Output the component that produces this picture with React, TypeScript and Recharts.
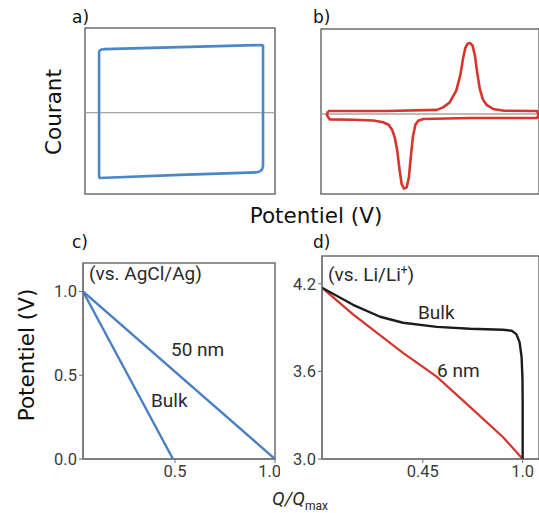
import React from "react";
import { LineChart, Line, XAxis, YAxis, ReferenceArea, ReferenceLine } from "recharts";

// Panel a: capacitive CV (rectangle)
const cvRectX = [0.1, 0.5, 0.93, 0.937, 0.937, 0.932, 0.92, 0.9, 0.5, 0.078, 0.074, 0.074, 0.078, 0.088, 0.1];
const cvRectY = [0.745, 0.77, 0.795, 0.785, -0.663, -0.705, -0.728, -0.74, -0.77, -0.807, -0.79, 0.711, 0.73, 0.742, 0.745];

// Panel b: faradaic CV with peaks
const cvPeakX = [0.032, 0.3, 0.532, 0.56, 0.59, 0.62, 0.64, 0.652, 0.662, 0.672, 0.683, 0.695, 0.706, 0.716, 0.728, 0.742, 0.76, 0.79, 0.84, 0.991, 0.998, 0.991, 0.683, 0.47, 0.447, 0.433, 0.422, 0.412, 0.403, 0.393, 0.381, 0.37, 0.36, 0.35, 0.339, 0.326, 0.31, 0.285, 0.24, 0.15, 0.04, 0.027, 0.032];
const cvPeakY = [0.006, 0.006, 0.02, 0.05, 0.11, 0.25, 0.45, 0.65, 0.77, 0.82, 0.83, 0.8, 0.68, 0.48, 0.28, 0.15, 0.08, 0.03, 0.01, 0.006, -0.04, -0.079, -0.079, -0.09, -0.11, -0.16, -0.3, -0.55, -0.8, -0.92, -0.935, -0.88, -0.7, -0.48, -0.32, -0.22, -0.16, -0.13, -0.11, -0.1, -0.095, -0.045, 0.006];

// Panel c
const cBulkX = [0.04, 0.49];
const cBulkY = [1.0, 0.0];
const c50X = [0.04, 1.0];
const c50Y = [1.0, 0.0];
const cTicksX = [0.5, 1.0];
const cTicksY = [0.0, 0.5, 1.0];

// Panel d
const dBulkX = [-0.105, 0.066, 0.215, 0.341, 0.528, 0.71, 0.891, 0.94, 0.965, 0.983, 0.994, 0.999, 1.0, 1.0];
const dBulkY = [4.173, 4.056, 3.974, 3.933, 3.905, 3.892, 3.885, 3.878, 3.855, 3.8, 3.7, 3.55, 3.4, 3.0];
const d6X = [-0.105, 0.066, 0.341, 0.396, 0.528, 0.71, 0.891, 1.0];
const d6Y = [4.173, 3.99, 3.727, 3.679, 3.562, 3.357, 3.151, 3.0];
const dTicksX = [0.45, 1.0];
const dTicksY = [3.0, 3.6, 4.2];

const zip = (xs: number[], ys: number[]) => xs.map((x, i) => ({ x, y: ys[i] }));

const BOX = "#6e6e6e";
const TICKFONT = "Roboto, 'DejaVu Sans', sans-serif";
const tickStyle = { fontSize: 16.5, fill: "#3a3a3a", fontFamily: TICKFONT };

export default function App() {
  return (
    <div style={{ position: "fixed", left: 0, top: 0, width: 539, height: 513, background: "#fff", overflow: "hidden" }}>
      {/* Panel a */}
      <div style={{ position: "absolute", left: 0, top: 0 }}>
        <LineChart width={280} height={200} margin={{ top: 28, right: 5, bottom: 6, left: 85 }}>
          <XAxis type="number" dataKey="x" domain={[0, 1]} hide />
          <YAxis type="number" domain={[-1, 1]} hide />
          <ReferenceLine y={-0.02} stroke="#aaa59c" strokeWidth={1.3} />
          <ReferenceArea x1={0} x2={1} y1={-1} y2={1} fill="none" stroke={BOX} strokeWidth={1.5} />
          <Line data={zip(cvRectX, cvRectY)} dataKey="y" type="linear" stroke="#4a87c7" strokeWidth={2.6} dot={false} isAnimationActive={false} />
        </LineChart>
      </div>
      {/* Panel b */}
      <div style={{ position: "absolute", left: 270, top: 0 }}>
        <LineChart width={269} height={200} margin={{ top: 29, right: 0, bottom: 6, left: 51 }}>
          <XAxis type="number" dataKey="x" domain={[0, 1]} hide />
          <YAxis type="number" domain={[-1, 1]} hide />
          <ReferenceLine y={-0.03} stroke="#aaa59c" strokeWidth={1.3} />
          <ReferenceArea x1={0} x2={1} y1={-1} y2={1} fill="none" stroke={BOX} strokeWidth={1.5} />
          <Line data={zip(cvPeakX, cvPeakY)} dataKey="y" type="linear" stroke="#d8352c" strokeWidth={2.6} strokeLinejoin="round" dot={false} isAnimationActive={false} />
        </LineChart>
      </div>
      {/* Panel c */}
      <div style={{ position: "absolute", left: 0, top: 220 }}>
        <LineChart width={280} height={293} margin={{ top: 43, right: 5, bottom: 24, left: 43 }}>
          <XAxis type="number" dataKey="x" domain={[0.04, 1]} ticks={cTicksX} tickFormatter={(v: number) => v.toFixed(1)} height={30} stroke={BOX} tickSize={4} tick={tickStyle} allowDataOverflow />
          <YAxis type="number" domain={[0, 1.17]} ticks={cTicksY} tickFormatter={(v: number) => v.toFixed(1)} width={40} stroke={BOX} tickSize={4} tick={tickStyle} allowDataOverflow />
          <ReferenceArea x1={0.04} x2={1} y1={0} y2={1.17} fill="none" stroke={BOX} strokeWidth={1.5} />
          <Line data={zip(cBulkX, cBulkY)} dataKey="y" type="linear" stroke="#4a80c3" strokeWidth={2.4} dot={false} isAnimationActive={false} />
          <Line data={zip(c50X, c50Y)} dataKey="y" type="linear" stroke="#4a80c3" strokeWidth={2.4} dot={false} isAnimationActive={false} />
        </LineChart>
      </div>
      {/* Panel d */}
      <div style={{ position: "absolute", left: 270, top: 220 }}>
        <LineChart width={269} height={293} margin={{ top: 36, right: 0, bottom: 24, left: 12 }}>
          <XAxis type="number" dataKey="x" domain={[-0.105, 1.09]} ticks={dTicksX} tickFormatter={(v: number) => (v === 1 ? "1.0" : String(v))} height={30} stroke={BOX} tickSize={4} tick={tickStyle} allowDataOverflow />
          <YAxis type="number" domain={[3.0, 4.39]} ticks={dTicksY} tickFormatter={(v: number) => v.toFixed(1)} width={40} stroke={BOX} tickSize={4} tick={tickStyle} allowDataOverflow />
          <ReferenceArea x1={-0.105} x2={1.09} y1={3.0} y2={4.39} fill="none" stroke={BOX} strokeWidth={1.5} />
          <Line data={zip(d6X, d6Y)} dataKey="y" type="linear" stroke="#d6342b" strokeWidth={2.2} dot={false} isAnimationActive={false} />
          <Line data={zip(dBulkX, dBulkY)} dataKey="y" type="linear" stroke="#1c1c1c" strokeWidth={2.4} strokeLinejoin="round" dot={false} isAnimationActive={false} />
        </LineChart>
      </div>
      {/* Text overlay */}
      <svg width={539} height={513} style={{ position: "absolute", left: 0, top: 0, pointerEvents: "none" }}>
        <g fontFamily="'DejaVu Sans', sans-serif" fill="#111">
          <text x={72} y={23} fontSize={17}>a)</text>
          <text x={313} y={23} fontSize={17}>b)</text>
          <text x={72} y={248} fontSize={17}>c)</text>
          <text x={313} y={248} fontSize={17}>d)</text>
          <text x={316} y={223} fontSize={21.5} textAnchor="middle">Potentiel (V)</text>
          <text transform="translate(61,112) rotate(-90)" fontSize={21.5} textAnchor="middle">Courant</text>
          <text transform="translate(34,355) rotate(-90)" fontSize={21.5} textAnchor="middle">Potentiel (V)</text>
        </g>
        <g fontFamily={TICKFONT} fill="#2a2a2a" fontSize={19}>
          <text x={89} y={280}>(vs. AgCl/Ag)</text>
          <text x={171} y={356}>50 nm</text>
          <text x={151} y={407}>Bulk</text>
          <text x={328} y={281}>(vs. Li/Li<tspan fontSize={12} dy={-7}>+</tspan><tspan dy={7}>)</tspan></text>
          <text x={418} y={319}>Bulk</text>
          <text x={437} y={377}>6 nm</text>
          <text x={272} y={505} fontSize={19} fontStyle="italic">Q/Q<tspan fontSize={12} fontStyle="normal" dy={5}>max</tspan></text>
        </g>
      </svg>
    </div>
  );
}
